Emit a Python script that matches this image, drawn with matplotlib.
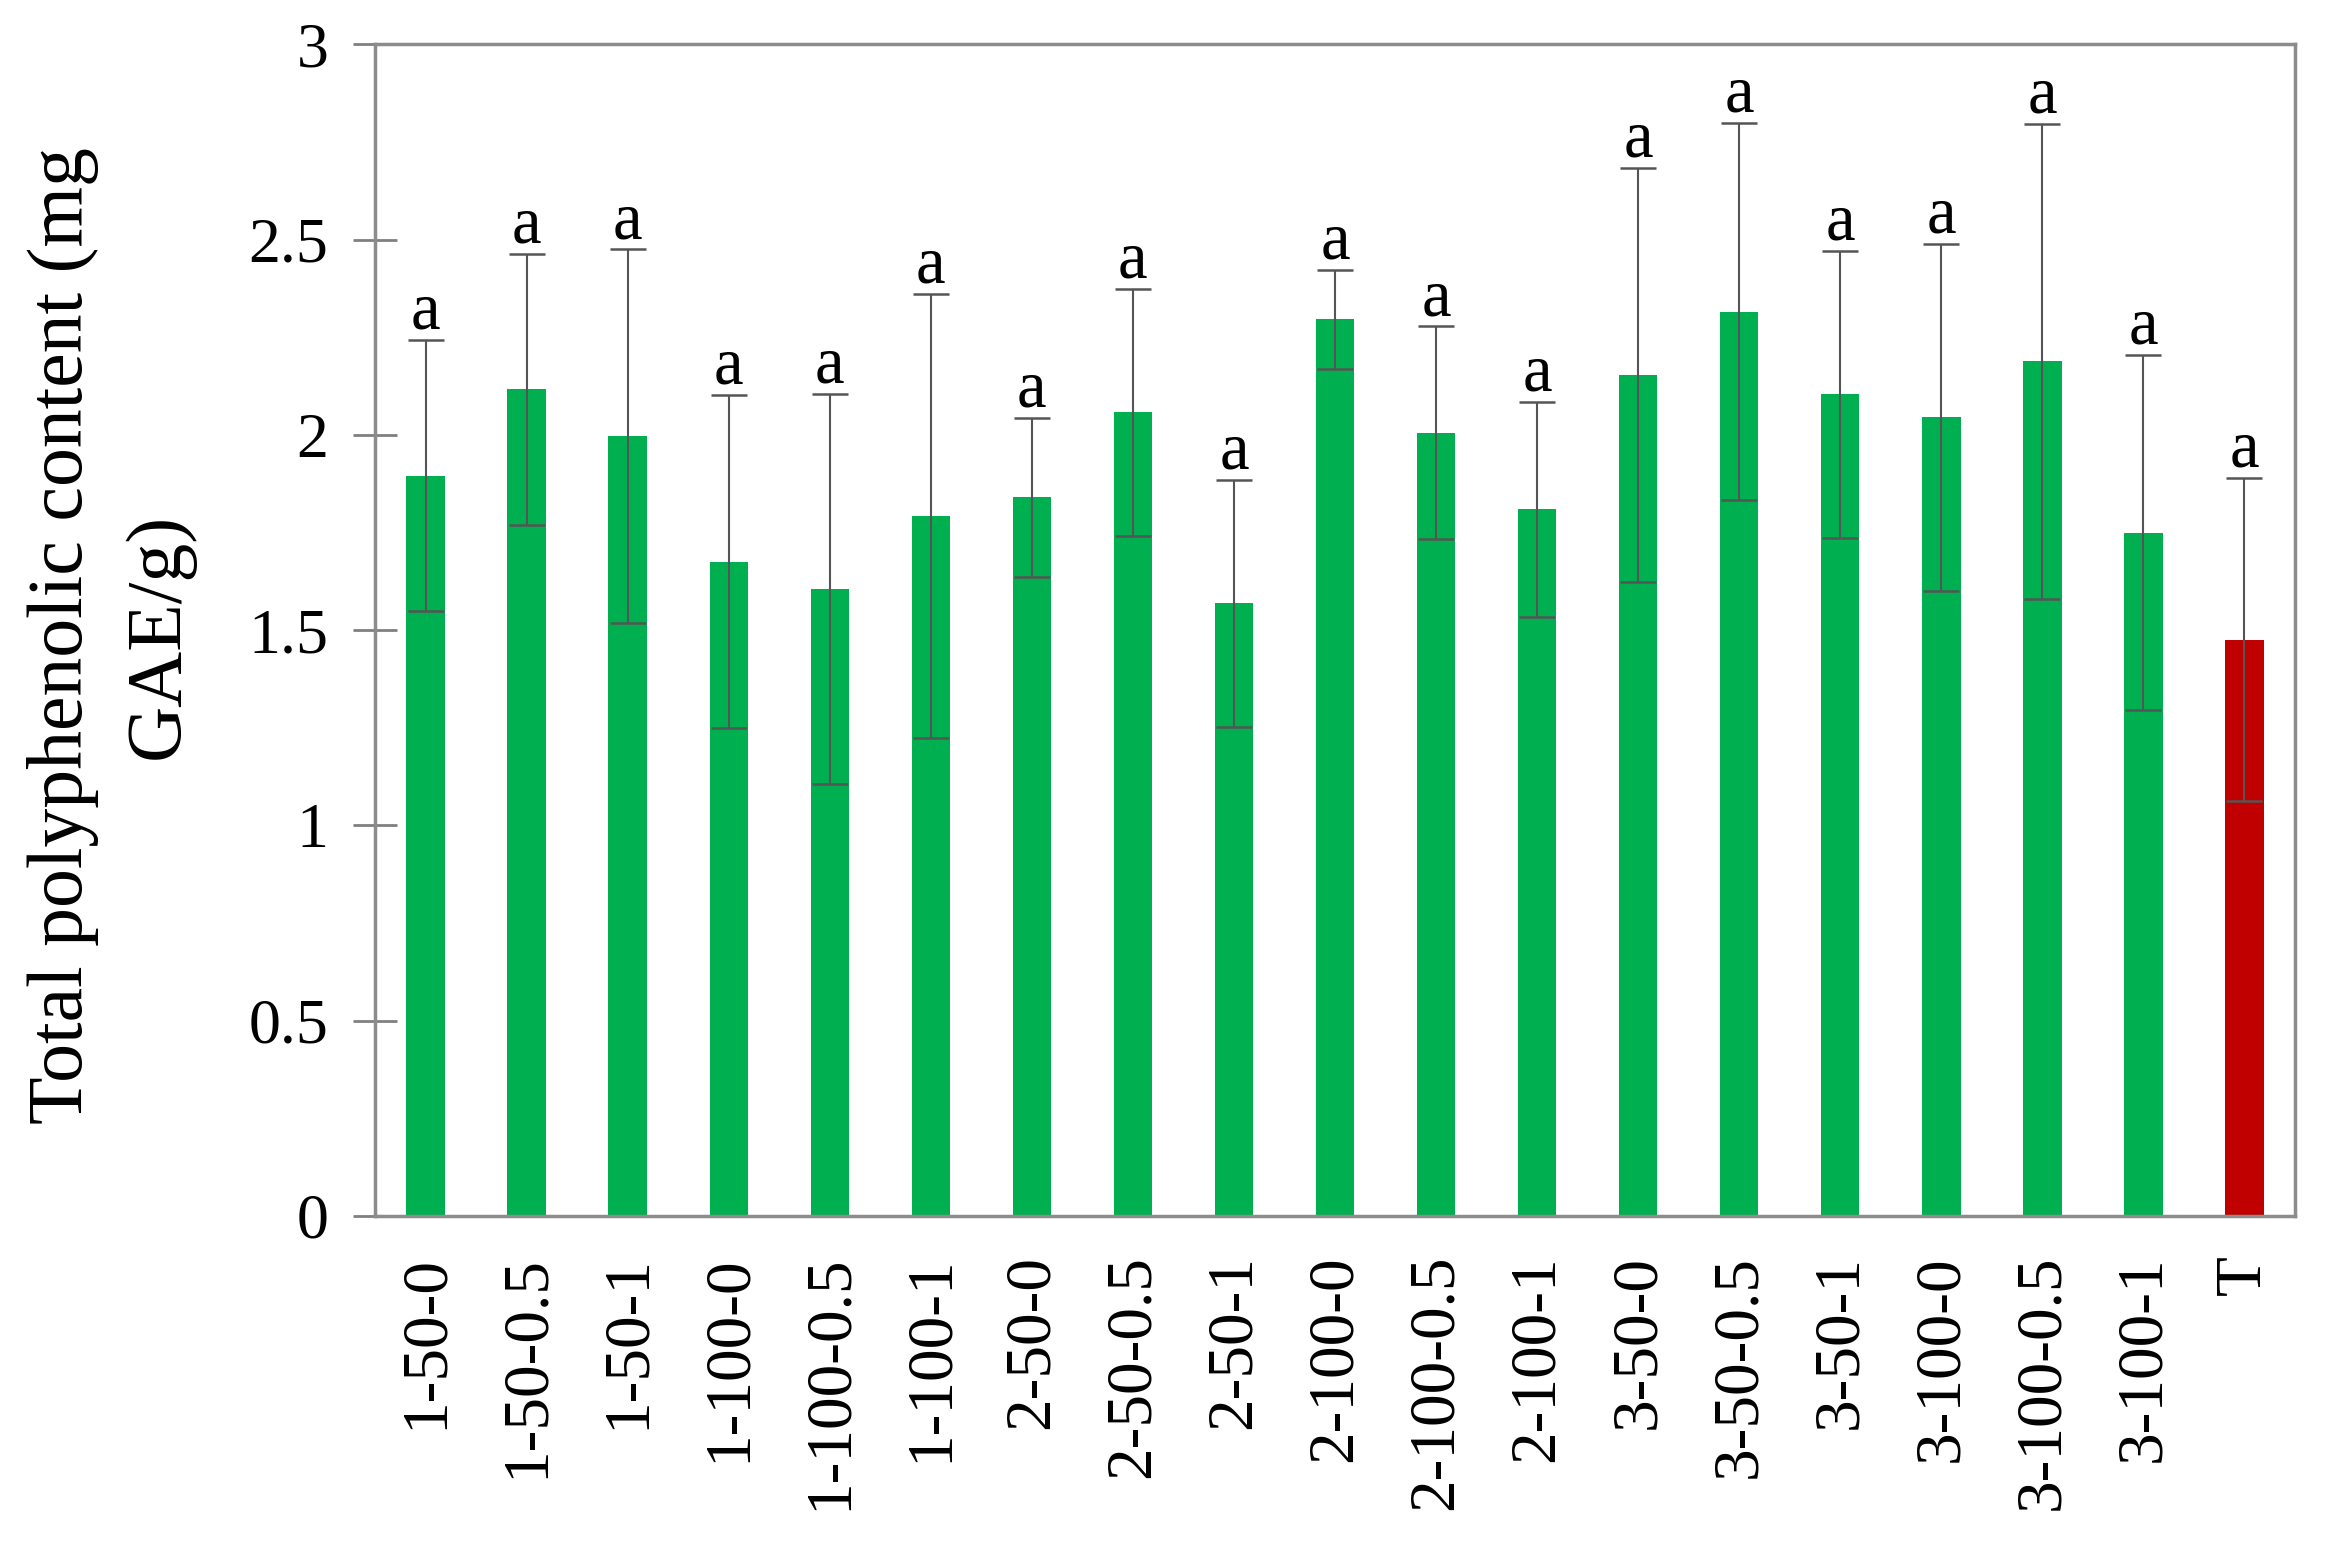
import numpy as np
import matplotlib
matplotlib.use("Agg")
import matplotlib.pyplot as plt
from matplotlib.ticker import FuncFormatter

# treatments
labels = ["1-50-0", "1-50-0.5", "1-50-1", "1-100-0", "1-100-0.5", "1-100-1",
          "2-50-0", "2-50-0.5", "2-50-1", "2-100-0", "2-100-0.5", "2-100-1",
          "3-50-0", "3-50-0.5", "3-50-1", "3-100-0", "3-100-0.5", "3-100-1", "T"]
means = [1.896, 2.117, 1.997, 1.676, 1.606, 1.793,
         1.840, 2.058, 1.569, 2.296, 2.006, 1.810,
         2.154, 2.316, 2.104, 2.045, 2.189, 1.750, 1.476]
errors = [0.348, 0.347, 0.478, 0.427, 0.500, 0.569,
          0.204, 0.316, 0.316, 0.127, 0.272, 0.275,
          0.530, 0.483, 0.368, 0.444, 0.608, 0.455, 0.414]
letters = ["a"] * len(labels)

green = "#00B050"
red = "#C00000"
colors = [green] * (len(labels) - 1) + [red]

plt.rcParams['font.family'] = ['Liberation Serif', 'DejaVu Serif']

fig = plt.figure(figsize=(23.25, 15.66), dpi=100)
ax = fig.add_axes([0.1613, 0.2235, 0.8258, 0.7481])

x = np.arange(len(labels))
ax.bar(x, means, width=0.38, color=colors, zorder=2)
ax.errorbar(x, means, yerr=errors, fmt='none', ecolor='#555555',
            elinewidth=1.5, capsize=13, capthick=1.8, zorder=3)

for xi, m, e, t in zip(x, means, errors, letters):
    ax.annotate(t, (xi, m + e), xytext=(0, 8), textcoords='offset points',
                ha='center', va='baseline', fontsize=48)

ax.set_xlim(-0.5, len(labels) - 0.5)
ax.set_ylim(0, 3)
ax.set_yticks(np.arange(0, 3.01, 0.5))
ax.yaxis.set_major_formatter(FuncFormatter(lambda v, p: "%g" % v))
ax.set_xticks(x)
ax.set_xticklabels(labels, rotation=90)

ax.tick_params(axis='x', length=0, pad=28, labelsize=47)
ax.tick_params(axis='y', direction='inout', length=31, width=2,
               color='#808080', pad=18, labelsize=46)

for side in ['left', 'right', 'top', 'bottom']:
    ax.spines[side].set_color('#8c8c8c')
    ax.spines[side].set_linewidth(2.5)

# two-line axis title, placed like the original
fig.text(0.0477, 0.594, "Total polyphenolic content (mg\nGAE/g)", fontsize=56,
         rotation=90, ha='center', va='center', linespacing=1.45)

fig.savefig("out.png", dpi=100)
